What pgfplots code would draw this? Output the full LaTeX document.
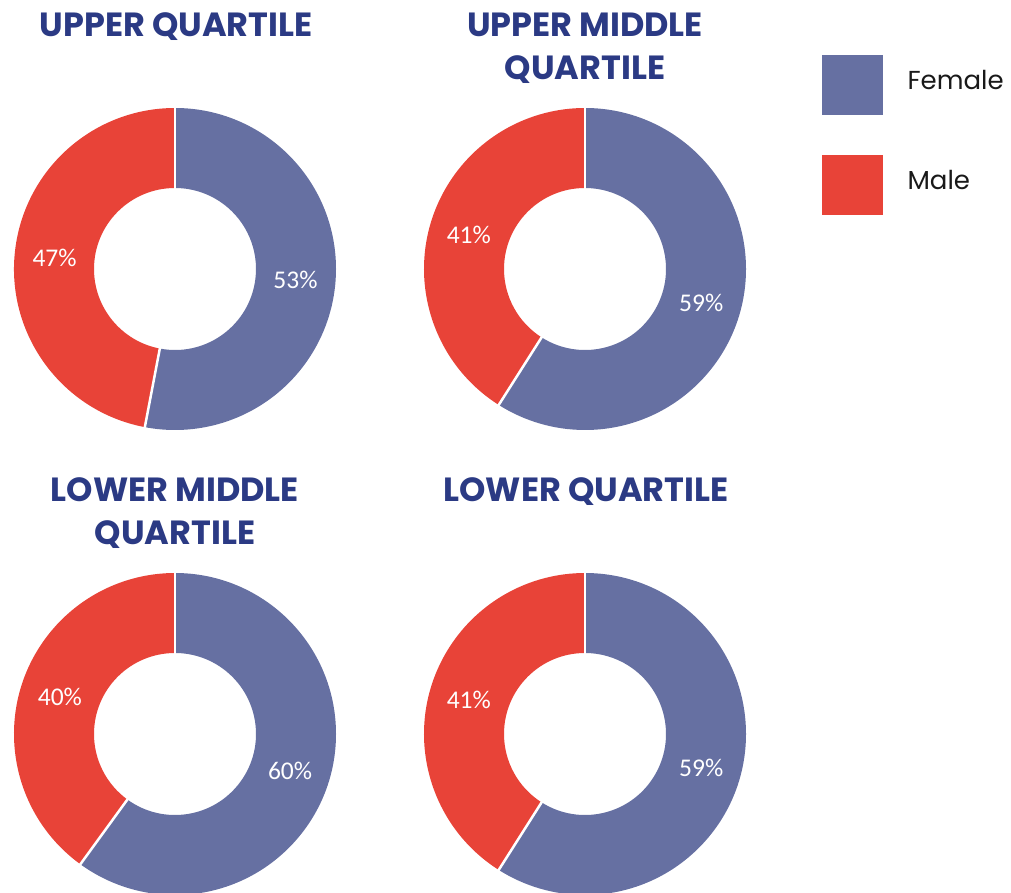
\documentclass[border=0pt]{standalone}
\usepackage{pgfplots}
\pgfplotsset{compat=1.18}
\usepackage{fontspec}
\setmainfont{Poppins}
\newfontfamily\lblfont{Carlito}
\definecolor{femc}{HTML}{6670A2}
\definecolor{malec}{HTML}{E84338}
\definecolor{titc}{HTML}{2B3A84}
% donut: cx, cy, female percent
\newcommand{\donut}[3]{%
  \fill[femc] (axis cs:#1,#2) ++(90:161pt) arc[start angle=90, end angle={90-3.6*#3}, radius=161pt]
     -- ++({270-3.6*#3}:80pt) arc[start angle={90-3.6*#3}, end angle=90, radius=81pt] -- cycle;
  \fill[malec] (axis cs:#1,#2) ++({90-3.6*#3}:161pt) arc[start angle={90-3.6*#3}, end angle=-270, radius=161pt]
     -- ++(270:80pt) arc[start angle=-270, end angle={90-3.6*#3}, radius=81pt] -- cycle;
  \draw[white, line width=2.5pt] (axis cs:#1,#2) ++(90:79pt) -- ++(90:84pt);
  \draw[white, line width=2.5pt] (axis cs:#1,#2) ++({90-3.6*#3}:79pt) -- ++({90-3.6*#3}:84pt);
  \node[text=white, font=\lblfont\fontsize{25.5}{28}\selectfont] at ($(axis cs:#1,#2)+({90-1.8*#3}:121pt)$) {#3\%};
  \node[text=white, font=\lblfont\fontsize{25.5}{28}\selectfont] at ($(axis cs:#1,#2)+({-90-1.8*#3}:121pt)$) {\pgfmathparse{int(100-#3)}\pgfmathresult\%};
}
\usetikzlibrary{calc}
\begin{document}
\begin{tikzpicture}
\begin{axis}[
  x=1pt, y=1pt, scale only axis,
  xmin=0, xmax=1011, ymin=0, ymax=892,
  hide axis,
]
\addplot[draw=none] coordinates {(0,0) (1011,892)};
\donut{175}{623}{53}
\donut{585}{623}{59}
\donut{175}{158}{60}
\donut{585}{158}{59}
% titles
\tikzset{tt/.style={anchor=base, text=titc, font=\fontsize{33.5}{40}\selectfont\bfseries}}
\node[tt] at (axis cs:176,855) {UPPER QUARTILE};
\node[tt] at (axis cs:585,855) {UPPER MIDDLE};
\node[tt] at (axis cs:585,812) {QUARTILE};
\node[tt] at (axis cs:175,390) {LOWER MIDDLE};
\node[tt] at (axis cs:175,347) {QUARTILE};
\node[tt] at (axis cs:586,390) {LOWER QUARTILE};
% legend
\fill[femc] (axis cs:822,777) rectangle (axis cs:883,837);
\fill[malec] (axis cs:822,677) rectangle (axis cs:883,737);
\node[anchor=west, font=\fontsize{26}{30}\selectfont, text=black!90] at (axis cs:904,812) {Female};
\node[anchor=west, font=\fontsize{26}{30}\selectfont, text=black!90] at (axis cs:904,712) {Male};
\end{axis}
\end{tikzpicture}
\end{document}
